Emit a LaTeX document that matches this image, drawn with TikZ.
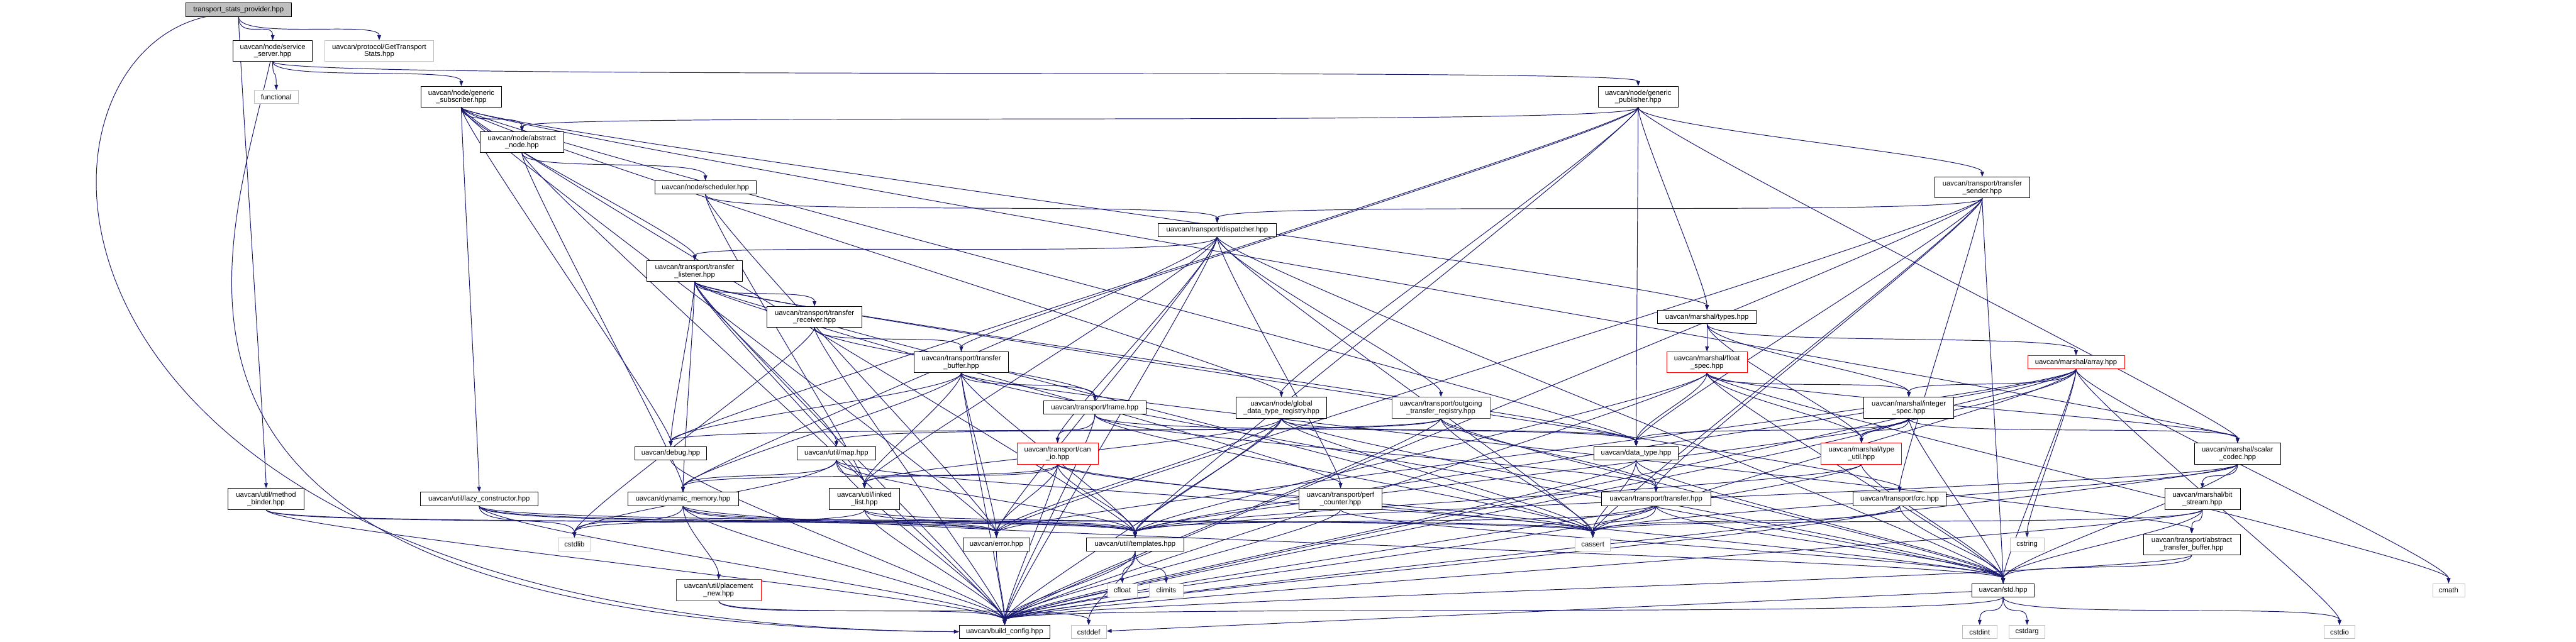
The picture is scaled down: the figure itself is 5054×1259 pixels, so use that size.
\documentclass[tikz,border=0pt]{standalone}
\usepackage{fontspec}
\setmainfont{Liberation Sans}
\usetikzlibrary{arrows.meta, positioning, backgrounds}
\definecolor{edgeblue}{HTML}{191970}
\definecolor{sysgray}{HTML}{BFBFBF}

\begin{document}
\begin{tikzpicture}[
        x=0.5pt, y=-0.5pt,
        >={Triangle[length=5pt, width=3.6pt]},
        file/.style={draw=black, fill=white, line width=0.5pt, inner sep=1pt, align=center, font=\fontsize{7}{7.3}\selectfont, minimum height=13pt},
        tall/.style={minimum height=20.5pt},
        root/.style={fill=sysgray},
        sys/.style={draw=sysgray},
        cut/.style={draw=red},
        dep/.style={edgeblue, line width=0.6pt, ->, to path={.. controls +(0,60) and +(0,-60) .. (\tikztotarget)}}
    ]
    \useasboundingbox (0,0) rectangle (5054,1259);

    % --- Top: the file and what it pulls in ---
    \node[file, root, minimum width=104pt] (tsp) at (468,19) {transport\_stats\_provider.hpp};
    \node[file, tall, minimum width=78pt] (srvsrv) at (535,100) {uavcan/node/service\\\_server.hpp};
    \node[file, tall, sys, minimum width=106.5pt] (gts) at (744,100) {uavcan/protocol/GetTransport\\Stats.hpp};
    \node[file, sys, minimum width=43.5pt] (functional) at (542,190) {functional};
    \node[file, tall, minimum width=79pt] (gensub) at (905,190) {uavcan/node/generic\\\_subscriber.hpp};
    \node[file, tall, minimum width=78pt] (genpub) at (3214,190) {uavcan/node/generic\\\_publisher.hpp};
    \node[file, tall, minimum width=81.5pt] (absnode) at (1024,279) {uavcan/node/abstract\\\_node.hpp};
    \node[file, minimum width=99.5pt] (scheduler) at (1384,368) {uavcan/node/scheduler.hpp};
    \node[file, tall, minimum width=93.5pt] (sender) at (3889,368) {uavcan/transport/transfer\\\_sender.hpp};

    % --- Middle rows ---
    \node[file, minimum width=115.5pt] (dispatcher) at (2388,451) {uavcan/transport/dispatcher.hpp};
    \node[file, tall, minimum width=93.5pt] (listener) at (1363,532) {uavcan/transport/transfer\\\_listener.hpp};
    \node[file, tall, minimum width=93pt] (receiver) at (1598,622) {uavcan/transport/transfer\\\_receiver.hpp};
    \node[file, minimum width=97pt] (types) at (3349,622) {uavcan/marshal/types.hpp};
    \node[file, tall, minimum width=93pt] (tbuffer) at (1886,711) {uavcan/transport/transfer\\\_buffer.hpp};
    \node[file, tall, cut, minimum width=79pt] (floatspec) at (3349,711) {uavcan/marshal/float\\\_spec.hpp};
    \node[file, cut, minimum width=95pt] (array) at (4073,711) {uavcan/marshal/array.hpp};
    \node[file, minimum width=101pt] (frame) at (2148,800) {uavcan/transport/frame.hpp};
    \node[file, tall, minimum width=88.5pt] (globalreg) at (2514,800) {uavcan/node/global\\\_data\_type\_registry.hpp};
    \node[file, tall, cut, minimum width=96.5pt] (outgoing) at (2827,800) {uavcan/transport/outgoing\\\_transfer\_registry.hpp};
    \node[file, tall, minimum width=88pt] (intspec) at (3745,800) {uavcan/marshal/integer\\\_spec.hpp};
    \node[file, minimum width=70.5pt] (debug) at (1316,889) {uavcan/debug.hpp};
    \node[file, minimum width=77pt] (map) at (1641,889) {uavcan/util/map.hpp};
    \node[file, tall, cut, minimum width=79.5pt] (canio) at (2075,890) {uavcan/transport/can\\\_io.hpp};
    \node[file, minimum width=82.5pt] (datatype) at (3210,889) {uavcan/data\_type.hpp};
    \node[file, tall, cut, minimum width=79pt] (typeutil) at (3652,890) {uavcan/marshal/type\\\_util.hpp};
    \node[file, tall, minimum width=85pt] (scalar) at (4390,890) {uavcan/marshal/scalar\\\_codec.hpp};
    \node[file, tall, minimum width=74.5pt] (binder) at (522,979) {uavcan/util/method\\\_binder.hpp};
    \node[file, minimum width=115.5pt] (lazyctor) at (940,979) {uavcan/util/lazy\_constructor.hpp};
    \node[file, minimum width=108.5pt] (dynmem) at (1340,979) {uavcan/dynamic\_memory.hpp};
    \node[file, tall, minimum width=69pt] (linkedlist) at (1696,979) {uavcan/util/linked\\\_list.hpp};
    \node[file, tall, minimum width=81pt] (perf) at (2630,979) {uavcan/transport/perf\\\_counter.hpp};
    \node[file, minimum width=107.5pt] (transfer) at (3249,979) {uavcan/transport/transfer.hpp};
    \node[file, minimum width=91.5pt] (crc) at (3727,979) {uavcan/transport/crc.hpp};
    \node[file, tall, minimum width=74pt] (bitstream) at (4321,979) {uavcan/marshal/bit\\\_stream.hpp};

    % --- Bottom rows ---
    \node[file, sys, minimum width=32pt] (cstdlib) at (1127,1068) {cstdlib};
    \node[file, minimum width=65.5pt] (error) at (1955,1068) {uavcan/error.hpp};
    \node[file, minimum width=95.5pt] (templates) at (2227,1068) {uavcan/util/templates.hpp};
    \node[file, sys, minimum width=34.5pt] (cassert) at (3125,1068) {cassert};
    \node[file, sys, minimum width=33.5pt] (cstring) at (3977,1068) {cstring};
    \node[file, tall, minimum width=95pt] (atbuffer) at (4300,1068) {uavcan/transport/abstract\\\_transfer\_buffer.hpp};
    \node[file, tall, cut, minimum width=83.5pt] (placement) at (1410,1158) {uavcan/util/placement\\\_new.hpp};
    \node[file, sys, minimum width=29pt] (cfloat) at (2202,1158) {cfloat};
    \node[file, sys, minimum width=33.5pt] (climits) at (2288,1158) {climits};
    \node[file, minimum width=61pt] (stdh) at (3930,1158) {uavcan/std.hpp};
    \node[file, sys, minimum width=31.5pt] (cmath) at (4804,1158) {cmath};
    \node[file, minimum width=89pt] (buildcfg) at (1971,1240) {uavcan/build\_config.hpp};
    \node[file, sys, minimum width=34.5pt] (cstddef) at (2136,1240) {cstddef};
    \node[file, sys, minimum width=33.5pt] (cstdint) at (3884,1240) {cstdint};
    \node[file, sys, minimum width=35pt] (cstdarg) at (3977,1240) {cstdarg};
    \node[file, sys, minimum width=30.5pt] (cstdio) at (4590,1240) {cstdio};

    % --- Include edges, kept behind the boxes ---
    \begin{scope}[on background layer]
    \fill[white] (0,0) rectangle (5054,1259);
    \draw[dep] (tsp) .. controls (0,120) and (0,1230) .. (buildcfg);
    \draw[dep] (srvsrv) .. controls (440,520) and (150,1230) .. (buildcfg);
    \draw[dep] (stdh) -- (cstddef);
    \path[dep] (tsp) edge (srvsrv) edge (gts) edge (binder);
    \path[dep] (srvsrv) edge (functional) edge (gensub) edge (genpub);
    \path[dep] (gensub) edge (absnode) edge (listener) edge (globalreg) edge (datatype) edge (lazyctor)
        edge (debug) edge (error) edge (templates) edge (types) edge (scalar);
    \path[dep] (genpub) edge (absnode) edge (sender) edge (globalreg) edge (datatype) edge (types)
        edge (scalar) edge (debug) edge (tbuffer) edge (templates);
    \path[dep] (absnode) edge (scheduler) edge (dynmem) edge (buildcfg);
    \path[dep] (scheduler) edge (dispatcher) edge (error) edge (linkedlist);
    \path[dep] (sender) edge (dispatcher) edge (datatype) edge (transfer) edge (crc) edge (error)
        edge (cassert) edge (buildcfg) edge (stdh);
    \path[dep] (dispatcher) edge (listener) edge (outgoing) edge (canio) edge (perf) edge (linkedlist)
        edge (error) edge (buildcfg) edge (stdh) edge (cassert) edge (dynmem);
    \path[dep] (listener) edge (receiver) edge (map) edge (debug) edge (linkedlist) edge (dynmem)
        edge (buildcfg) edge (perf) edge (crc) edge (datatype) edge (cassert);
    \path[dep] (receiver) edge (tbuffer) edge (frame) edge (buildcfg) edge (cstdlib);
    \path[dep] (tbuffer) edge (frame) edge (debug) edge (dynmem) edge (linkedlist) edge (error)
        edge (templates) edge (buildcfg) edge (atbuffer) edge (stdh);
    \path[dep] (frame) edge (canio) edge (transfer) edge (buildcfg) edge (cassert) edge (datatype);
    \path[dep] (globalreg) edge (datatype) edge (error) edge (templates) edge (linkedlist) edge (stdh)
        edge (buildcfg) edge (cassert);
    \path[dep] (outgoing) edge (transfer) edge (map) edge (debug) edge (buildcfg) edge (stdh) edge (cassert);
    \path[dep] (types) edge (floatspec) edge (intspec) edge (array) edge (typeutil);
    \path[dep] (floatspec) edge (intspec) edge (typeutil) edge (scalar) edge (cmath) edge (stdh)
        edge (datatype) edge (buildcfg) edge (templates);
    \path[dep] (intspec) edge (typeutil) edge (scalar) edge (stdh) edge (buildcfg) edge (templates) edge (datatype);
    \path[dep] (array) edge (intspec) edge (typeutil) edge (cassert) edge (cstdio) edge (cstring)
        edge (cmath) edge (error) edge (stdh) edge (buildcfg) edge (templates);
    \path[dep] (typeutil) edge (templates) edge (buildcfg) edge (stdh);
    \path[dep] (datatype) edge (transfer) edge (cassert) edge (stdh) edge (buildcfg);
    \path[dep] (transfer) edge (cassert) edge (buildcfg) edge (stdh) edge (templates);
    \path[dep] (crc) edge (cassert) edge (stdh) edge (buildcfg);
    \path[dep] (perf) edge (buildcfg) edge (stdh);
    \path[dep] (canio) edge (linkedlist) edge (dynmem) edge (error) edge (templates) edge (buildcfg)
        edge (stdh) edge (cassert);
    \path[dep] (map) edge (linkedlist) edge (dynmem) edge (cassert) edge (cstdlib) edge (buildcfg) edge (templates);
    \path[dep] (linkedlist) edge (cassert) edge (cstdlib) edge (buildcfg) edge (templates);
    \path[dep] (debug) edge (buildcfg);
    \path[dep] (dynmem) edge (placement) edge (error) edge (buildcfg) edge (templates) edge (stdh) edge (cstdlib);
    \path[dep] (lazyctor) edge (cstdlib) edge (error) edge (templates) edge (buildcfg) edge (cassert);
    \path[dep] (binder) edge (error) edge (templates) edge (buildcfg);
    \path[dep] (error) edge (buildcfg);
    \path[dep] (templates) edge (cfloat) edge (climits) edge (cstddef) edge (buildcfg);
    \path[dep] (placement) edge (cstddef) edge (buildcfg);
    \path[dep] (scalar) edge (bitstream) edge (templates) edge (stdh) edge (buildcfg) edge (cassert);
    \path[dep] (bitstream) edge (atbuffer) edge (stdh) edge (buildcfg) edge (cassert);
    \path[dep] (atbuffer) edge (stdh) edge (buildcfg);
    \path[dep] (stdh) edge (cstdint) edge (cstdarg) edge (cstdio) edge (buildcfg);
    \end{scope}
\end{tikzpicture}
\end{document}
